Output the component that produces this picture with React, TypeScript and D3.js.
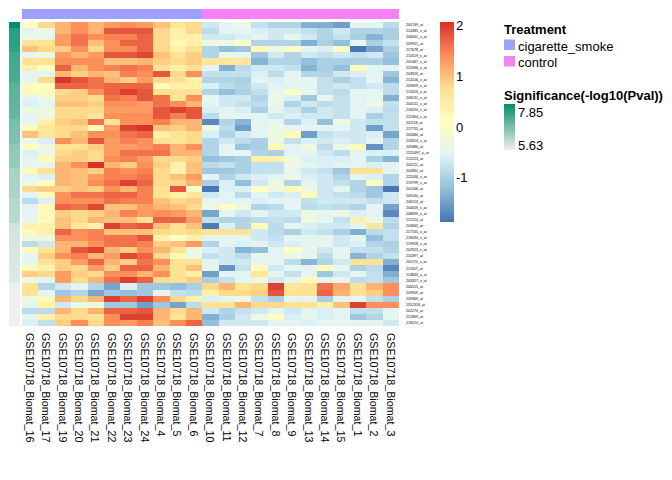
import React, { useEffect, useRef } from 'react';
import * as d3 from 'd3';

// sample order as drawn (columns)
const samples = [
  'GSE10718_Biomat_16', 'GSE10718_Biomat_17', 'GSE10718_Biomat_19', 'GSE10718_Biomat_20',
  'GSE10718_Biomat_21', 'GSE10718_Biomat_22', 'GSE10718_Biomat_23', 'GSE10718_Biomat_24',
  'GSE10718_Biomat_4', 'GSE10718_Biomat_5', 'GSE10718_Biomat_6', 'GSE10718_Biomat_10',
  'GSE10718_Biomat_11', 'GSE10718_Biomat_12', 'GSE10718_Biomat_7', 'GSE10718_Biomat_8',
  'GSE10718_Biomat_9', 'GSE10718_Biomat_13', 'GSE10718_Biomat_14', 'GSE10718_Biomat_15',
  'GSE10718_Biomat_1', 'GSE10718_Biomat_2', 'GSE10718_Biomat_3',
];

const treatment = [
  'cigarette_smoke', 'cigarette_smoke', 'cigarette_smoke', 'cigarette_smoke', 'cigarette_smoke',
  'cigarette_smoke', 'cigarette_smoke', 'cigarette_smoke', 'cigarette_smoke', 'cigarette_smoke',
  'cigarette_smoke', 'control', 'control', 'control', 'control', 'control', 'control',
  'control', 'control', 'control', 'control', 'control', 'control',
];

// probe ids (rows)
const probes = [
  '205749_at', '214385_s_at', '206561_s_at', '209921_at', '217678_at', '210519_s_at',
  '201467_s_at', '221696_s_at', '203925_at', '214106_s_at', '209699_x_at', '211653_x_at',
  '208131_s_at', '204151_x_at', '216594_x_at', '222464_s_at', '201118_at', '217755_at',
  '205680_at', '218313_s_at', '209386_at', '1555497_a_at', '212223_at', '205221_at',
  '202831_at', '222036_s_at', '219799_s_at', '201266_at', '209160_at', '206153_at',
  '204059_s_at', '208699_x_at', '212224_at', '203665_at', '217165_x_at', '218434_s_at',
  '219928_s_at', '202923_s_at', '210397_at', '201170_s_at', '211657_at', '213843_x_at',
  '203357_s_at', '206515_at', '209309_at', '209369_at', '1552318_at', '202270_at',
  '221869_at', '218224_at',
];

// -log10(p) per probe
const significance = [
  7.85, 7.48, 7.46, 7.44, 7.42, 7.28, 7.25, 7.22, 7.2, 7.18,
  7.02, 7.0, 6.98, 6.96, 6.94, 6.92, 6.75, 6.72, 6.7, 6.68,
  6.52, 6.5, 6.48, 6.46, 6.3, 6.28, 6.27, 6.26, 6.25, 6.16,
  6.15, 6.14, 6.13, 5.9, 5.88, 5.86, 5.85, 5.84, 5.83, 5.82,
  5.81, 5.8, 5.79, 5.64, 5.64, 5.63, 5.63, 5.63, 5.63, 5.63,
];

// scaled expression, one row per probe, one value per sample
const expression = [
  [0.05, 0.8, 1.1, 1.4, 1.1, 1.3, 1.4, 1.3, 1.0, 0.6, 0.8, -0.7, -0.45, -0.3, -0.8, -0.95, -0.95, -1.35, -1.35, -1.5, -0.45, -0.45, -0.85],
  [-0.5, -0.3, 1.1, 1.4, 1.1, 1.8, 1.8, 1.8, 0.8, 0.4, 0.8, -0.85, -0.5, -0.5, -0.6, -0.7, -0.7, -0.8, -0.95, -0.7, -0.95, -0.95, -1.0],
  [-0.3, -0.45, 1.3, 1.6, 1.4, 1.5, 1.5, 1.7, 0.8, 0.4, 0.4, -0.7, -0.7, -0.6, -0.5, -0.7, -0.45, -0.7, -0.95, -0.8, -1.0, -1.3, -1.0],
  [0.7, 0.7, 1.3, 1.6, 1.0, 1.4, 1.7, 1.7, 0.8, 0.2, 0.4, -0.3, -0.3, 0.05, -0.95, -0.95, -0.95, -1.35, -1.0, -1.2, -0.45, -1.0, -0.8],
  [1.0, 0.8, 0.9, 1.4, 0.8, 1.4, 1.4, 1.7, 0.8, 0.4, 0.7, -0.95, -1.2, -1.1, 0.2, -0.3, 0.05, -0.45, -0.6, 0.05, -1.85, -1.45, -1.0],
  [-0.45, -0.3, 1.3, 1.1, 1.3, 1.8, 1.8, 1.9, 1.0, 0.7, 0.9, -0.95, -0.3, -0.5, -1.1, -0.7, -0.95, -0.7, -0.8, -0.7, -0.8, -0.7, -1.1],
  [0.7, 0.7, 1.4, 1.4, 1.4, 1.0, 1.0, 1.1, 0.9, 0.8, 0.9, 0.6, 0.6, 0.6, -1.3, -0.95, -0.95, -1.2, -1.0, -1.0, -1.0, -1.0, -1.2],
  [0.4, 0.05, 1.7, 1.1, 1.4, 1.5, 1.6, 1.5, 0.7, 0.4, 0.7, -0.5, -1.35, -0.85, -0.7, -0.7, -0.8, -1.3, -1.0, -1.2, 0.2, -0.5, -0.5],
  [-0.5, -0.5, 1.1, 0.9, 1.1, 1.0, 1.5, 1.4, 1.8, 0.8, 1.4, -0.8, -0.8, -0.8, -0.6, -0.85, -0.5, -0.95, -0.95, -0.7, -0.6, -0.5, -1.1],
  [-0.45, 0.8, 2.05, 1.8, 1.6, 1.1, 0.9, 1.3, 0.8, 0.7, 0.4, -0.95, -0.95, -1.0, -0.5, -0.6, -0.45, -0.45, -0.8, -1.0, -0.8, -0.5, -1.3],
  [0.2, 0.05, 1.7, 1.7, 1.6, 1.7, 1.7, 1.7, 0.2, 0.4, 0.4, -0.6, -0.85, -0.95, -0.7, -0.5, -0.5, -0.5, -0.8, -0.7, -0.8, -0.7, -0.85],
  [0.2, 0.2, 0.8, 0.9, 1.4, 1.7, 1.95, 1.8, 0.7, 0.7, 0.7, -0.95, -1.2, -1.0, -0.8, -0.45, 0.05, -0.45, -0.8, -0.85, -0.45, -0.45, -0.85],
  [-0.45, -0.3, 0.9, 0.9, 0.8, 1.6, 1.5, 1.8, 1.6, 0.7, 1.4, -0.45, -0.7, -0.7, -0.95, -0.3, -0.6, -1.1, -0.45, -0.8, -0.5, -0.45, -1.35],
  [-0.6, -0.45, 1.0, 1.0, 0.9, 1.4, 1.4, 1.3, 1.6, 1.4, 1.1, -0.45, -0.7, -0.8, -0.85, -0.45, -0.95, -0.7, -0.85, -0.8, -0.5, -0.3, -0.8],
  [-0.3, -0.3, 0.8, 0.8, 0.8, 1.3, 1.3, 1.3, 1.8, 1.95, 1.8, -0.6, -0.5, -0.6, -1.0, -0.5, -0.7, -1.0, -0.7, -0.8, -0.5, -0.6, -0.85],
  [-0.5, -0.3, 0.8, 0.8, 0.6, 1.4, 1.4, 1.4, 1.8, 1.5, 1.8, -0.85, -0.5, -0.45, -0.5, -0.7, -0.6, -0.7, -0.7, -0.8, -0.5, -1.0, -0.8],
  [-0.45, 0.4, 0.9, 1.0, 1.6, 0.7, 1.4, 1.4, 1.5, 1.1, 1.1, -1.7, -0.95, -1.3, -0.5, -0.45, -0.95, -0.6, -1.2, -0.3, -0.7, -0.8, -0.8],
  [0.2, 0.6, 0.8, 0.8, 0.2, 1.3, 1.95, 2.05, 1.0, 0.9, 1.1, -0.3, -0.85, -1.5, -0.5, -0.3, -0.45, -0.5, -0.5, -0.5, -0.7, -1.5, -0.8],
  [1.0, 0.6, 0.8, 1.0, 1.4, 1.4, 1.6, 1.7, 0.4, 0.7, 0.8, -0.6, -0.95, -0.7, -0.5, -0.3, 0.2, -1.5, -0.8, -0.7, -0.7, -0.6, -1.45],
  [-0.3, -0.6, 1.4, 1.1, 1.8, 1.3, 1.5, 1.4, 0.7, 0.6, 0.8, -0.95, -0.7, -0.85, -1.0, -0.3, -0.8, -0.6, -0.7, -0.6, -0.7, -0.45, -0.95],
  [0.05, -0.3, 0.7, 0.7, 0.9, 1.3, 1.3, 1.4, 1.5, 1.1, 1.4, -0.95, -0.5, -1.1, -1.0, 0.2, -0.5, -0.3, -0.85, -0.3, 0.2, -1.6, -0.95],
  [-0.6, -0.3, 0.8, 0.9, 0.8, 1.3, 1.6, 1.6, 1.6, 1.1, 1.1, -0.95, -0.5, -0.45, -0.95, -1.0, -0.5, -0.5, -0.7, -0.85, -0.5, -0.6, -0.6],
  [-0.45, 0.2, 0.9, 0.9, 0.8, 1.4, 1.5, 1.3, 0.8, 0.8, 0.9, -1.2, -1.1, -1.0, 0.4, 0.4, -0.3, -0.6, -0.6, -0.6, -0.5, -1.0, -1.3],
  [-0.45, -0.45, 1.1, 1.4, 2.05, 1.1, 0.9, 1.4, 0.9, 0.4, 1.0, -0.85, -0.8, -1.0, -0.8, -0.8, -0.3, -0.5, -0.6, -0.5, -0.5, -0.6, -0.5],
  [0.2, 0.7, 1.1, 1.0, 0.9, 1.5, 1.4, 1.5, 0.8, 0.4, 1.0, -1.1, -1.1, -1.0, -0.8, -0.8, -0.45, -0.7, -0.8, -1.1, 0.7, 0.7, -0.5],
  [-0.5, -0.6, 1.1, 1.0, 1.3, 1.5, 1.5, 1.6, 0.8, 1.0, 1.3, -0.5, -0.95, -0.7, -0.6, -0.5, -0.3, -0.6, -0.7, -0.95, -0.5, -0.6, -0.95],
  [-0.3, 0.05, 1.1, 1.0, 1.4, 1.6, 1.95, 1.7, 0.8, 0.8, 1.1, -1.0, -0.6, -1.2, -0.7, -0.3, -0.95, -0.5, -0.7, -0.8, -0.95, 0.05, -0.95],
  [0.8, 0.9, 0.9, 1.0, 0.9, 1.4, 1.1, 1.5, 0.7, 1.8, 0.05, -1.85, -0.6, -0.6, 0.05, -0.3, 0.2, -0.3, -0.7, -0.5, -0.95, -1.1, -1.85],
  [-0.45, 0.2, 1.4, 1.6, 1.6, 1.7, 1.7, 1.5, 0.7, 0.4, 0.6, -0.7, -0.5, -0.85, -0.5, -0.7, -0.6, 0.2, -0.7, -0.8, -0.85, -1.1, -0.7],
  [-0.85, -0.6, 1.4, 1.4, 1.4, 1.6, 1.5, 1.5, 1.0, 0.8, 0.9, -0.45, -0.5, -0.5, -0.6, -0.5, -0.5, -0.8, -0.7, -0.7, -0.7, -0.8, -0.7],
  [-0.5, 0.2, 1.7, 1.6, 1.9, 1.0, 1.0, 1.3, 1.1, 1.0, 0.8, -0.3, 0.05, -0.3, -0.95, -0.85, -0.5, -0.85, -0.8, -0.85, -0.95, -0.45, -1.45],
  [-0.5, 0.2, 0.9, 0.8, 0.9, 1.1, 1.5, 1.3, 1.4, 1.3, 1.1, -1.45, -0.5, -0.7, -0.5, -0.7, -0.7, -0.3, -0.45, -0.3, -0.6, -0.5, -1.7],
  [-0.45, 0.2, 1.0, 0.8, 1.1, 1.0, 1.0, 0.7, 1.7, 1.7, 1.3, -0.8, -0.95, -0.95, -0.85, -0.8, -0.85, -0.3, -0.45, -0.8, 0.4, -0.3, -0.85],
  [0.4, 0.4, 1.0, 0.6, 0.4, 1.95, 1.7, 1.8, 1.0, 0.7, 1.0, -1.8, -0.6, -0.95, 0.2, -0.85, -0.45, -0.6, -0.7, -0.7, -0.45, 0.6, -0.95],
  [0.2, 0.4, 1.7, 1.4, 1.5, 1.0, 1.0, 1.0, 0.8, 0.7, 0.8, 0.7, 0.7, 0.7, -0.7, -0.85, -1.0, -0.7, -0.8, -1.0, -1.35, -0.85, -0.8],
  [-0.3, -0.3, 1.4, 1.4, 1.5, 1.6, 1.6, 1.8, 0.4, 0.05, 0.4, -0.5, -0.5, -0.5, -0.7, -0.8, -0.5, -0.45, -0.5, -0.7, -0.45, -1.2, -0.8],
  [-0.85, -0.7, 1.1, 1.1, 1.4, 1.6, 1.6, 1.5, 0.9, 1.0, 1.3, -0.95, -0.5, -0.6, -0.5, -0.7, -0.6, -0.45, -0.45, -0.7, -0.6, -0.95, -1.0],
  [0.2, 0.7, 1.1, 1.8, 1.95, 1.1, 0.9, 1.4, 1.1, 0.7, -0.3, -0.6, -0.7, -1.3, -1.2, -0.5, 0.05, -0.45, -0.7, -0.5, -0.8, -0.8, -0.95],
  [-0.45, 0.9, 1.4, 1.5, 1.1, 1.3, 1.9, 1.7, 0.8, 0.2, -0.3, -0.8, -0.7, -0.85, -0.45, -0.5, -0.3, -0.45, -0.85, -0.45, -1.3, -0.95, -0.8],
  [-0.45, 0.7, 0.9, 1.3, 1.7, 1.1, 0.9, 1.6, 1.4, 0.7, 0.7, -0.5, -0.7, -0.7, -0.45, -0.5, -0.85, -1.3, -0.95, -0.7, 0.7, 0.7, -1.35],
  [0.2, 0.4, 0.9, 0.8, 1.3, 0.9, 1.7, 1.7, 1.1, 0.7, 1.0, -0.45, -1.6, -0.8, 0.2, -0.7, -0.45, -0.5, 0.2, -0.45, -1.0, -0.85, -1.7],
  [0.9, 0.8, 1.3, 0.9, 0.8, 1.4, 1.4, 1.1, 1.4, 0.7, 0.4, -1.5, -0.5, -0.5, 0.6, -0.5, -0.8, -0.5, -1.1, -0.7, -0.45, -0.8, -1.35],
  [-0.3, -0.5, 1.3, 0.8, 1.1, 1.6, 1.95, 1.7, 0.8, 0.7, 0.9, -1.0, -0.8, -0.45, -0.3, -0.7, -0.45, 0.2, -0.5, -0.5, -0.85, -0.8, -1.1],
  [0.7, -0.95, -0.7, -0.5, -0.95, -1.45, -0.6, -1.1, -1.1, -1.2, -1.0, 0.8, 1.1, 0.7, 0.8, 1.95, 0.6, 0.7, 1.6, 1.2, 0.7, 1.1, 1.4],
  [0.7, -0.45, -1.1, -0.95, -1.45, -1.1, -1.2, -1.1, -0.45, -0.8, -0.85, 0.4, 0.8, 0.8, 0.9, 1.8, 0.7, 0.7, 1.7, 1.1, 0.7, 0.9, 1.4],
  [-0.3, 0.2, 1.1, 0.8, 1.1, 1.95, 1.7, 1.95, 1.4, 0.8, 0.4, -0.6, -0.45, -0.3, -0.8, -1.0, -0.5, -0.45, -1.0, -0.5, -0.45, -0.8, -1.0],
  [-0.45, 0.4, -0.7, -0.3, -0.3, -1.1, -1.1, -1.5, -1.1, -1.45, -0.85, 0.7, 0.7, 1.1, 0.8, 0.8, 0.7, 0.7, 0.4, 1.0, 1.95, 1.4, 1.4],
  [-0.85, -0.85, 1.1, 0.8, 1.1, 1.7, 1.7, 1.8, 1.1, 0.8, 1.1, -0.7, -0.95, -0.8, -0.7, -0.5, -0.7, -0.5, -0.6, -0.5, -0.8, -0.8, -0.5],
  [-0.45, 0.4, 0.8, 0.8, 0.7, 1.4, 1.95, 1.95, 1.1, 0.7, 1.1, -1.35, -1.0, -0.7, -0.3, 0.05, -0.6, -0.45, -0.6, -0.5, -1.1, -0.95, -0.45],
  [-0.6, -0.8, 0.9, 1.4, 0.8, 1.4, 1.3, 1.5, 1.0, 1.4, 1.7, -1.2, -0.7, -0.7, -0.7, -0.5, -0.5, -0.6, -0.45, -0.45, -0.5, -0.5, -0.7],
];

const treatmentLevels = ['cigarette_smoke', 'control'];
const treatmentColors = ['#9f9ffc', '#f680f5'];
const heatColors = ['#4575B4', '#91BFDB', '#E0F3F8', '#FFFFBF', '#FEE090', '#FC8D59', '#D73027'];
const valueRange = [-1.87, 2.07];
const valueTicks = [-1, 0, 1, 2];
const sigRange = [5.63, 7.85];
const sigColors = ['#efefef', '#008f67'];

const font = '"Liberation Sans", Arial, Helvetica, sans-serif';

const App = () => {
  const svgRef = useRef<SVGSVGElement | null>(null);

  useEffect(() => {
    if (!svgRef.current) return;
    const svg = d3.select(svgRef.current);
    svg.selectAll('*').remove();

    const heat = { left: 22, top: 22, right: 399, bottom: 326 };

    const x = d3.scaleBand().domain(samples).range([heat.left, heat.right]);
    const y = d3.scaleBand().domain(probes).range([heat.top, heat.bottom]);

    const stops = heatColors.map((_, i) => valueRange[0] + (i * (valueRange[1] - valueRange[0])) / (heatColors.length - 1));
    const color = d3.scaleLinear<string>().domain(stops).range(heatColors).interpolate(d3.interpolateRgb).clamp(true);
    const sigColor = d3.scaleLinear<string>().domain(sigRange).range(sigColors).interpolate(d3.interpolateRgb);
    const trtColor = d3.scaleOrdinal<string>().domain(treatmentLevels).range(treatmentColors);

    // heatmap cells
    const cells = svg.append('g').attr('shape-rendering', 'crispEdges');
    expression.forEach((row, i) => {
      cells.selectAll(null)
        .data(row)
        .enter()
        .append('rect')
        .attr('x', (_, j) => x(samples[j])!)
        .attr('y', y(probes[i])!)
        .attr('width', x.bandwidth())
        .attr('height', y.bandwidth())
        .attr('fill', d => color(d));
    });

    // column annotation
    svg.append('g').attr('shape-rendering', 'crispEdges')
      .selectAll('rect')
      .data(samples)
      .enter()
      .append('rect')
      .attr('x', d => x(d)!)
      .attr('y', 9)
      .attr('width', x.bandwidth())
      .attr('height', 10)
      .attr('fill', (_, j) => trtColor(treatment[j]));

    // row annotation
    svg.append('g').attr('shape-rendering', 'crispEdges')
      .selectAll('rect')
      .data(probes)
      .enter()
      .append('rect')
      .attr('x', 9)
      .attr('y', d => y(d)!)
      .attr('width', 11)
      .attr('height', y.bandwidth())
      .attr('fill', (_, i) => sigColor(significance[i]));

    // row labels
    svg.append('g')
      .selectAll('text')
      .data(probes)
      .enter()
      .append('text')
      .attr('x', heat.right + 7)
      .attr('y', d => y(d)! + y.bandwidth() / 2)
      .attr('dy', '0.35em')
      .attr('font-family', font)
      .attr('font-size', 3.6)
      .attr('fill', '#000')
      .text(d => d);

    // column labels
    svg.append('g')
      .selectAll('text')
      .data(samples)
      .enter()
      .append('text')
      .attr('transform', d => `translate(${x(d)! + x.bandwidth() / 2},333) rotate(90)`)
      .attr('dy', '0.4em')
      .attr('font-family', font)
      .attr('font-size', 10.7)
      .attr('fill', '#000')
      .text(d => d);

    // color key
    const defs = svg.append('defs');
    const grad = defs.append('linearGradient')
      .attr('id', 'heatKey')
      .attr('x1', 0).attr('y1', 1).attr('x2', 0).attr('y2', 0);
    heatColors.forEach((c, i) => {
      grad.append('stop').attr('offset', i / (heatColors.length - 1)).attr('stop-color', c);
    });
    const keyY = d3.scaleLinear().domain(valueRange).range([222, 22]);
    svg.append('rect')
      .attr('x', 440)
      .attr('y', 22)
      .attr('width', 14)
      .attr('height', 200)
      .attr('fill', 'url(#heatKey)');
    svg.append('g')
      .selectAll('text')
      .data(valueTicks)
      .enter()
      .append('text')
      .attr('x', 456)
      .attr('y', d => keyY(d))
      .attr('dy', '0.35em')
      .attr('font-family', font)
      .attr('font-size', 13)
      .attr('fill', '#000')
      .text(d => d);

    // Treatment legend
    const leg = svg.append('g').attr('font-family', font).attr('fill', '#000');
    leg.append('text')
      .attr('x', 504).attr('y', 34)
      .attr('font-size', 13).attr('font-weight', 'bold')
      .text('Treatment');
    treatmentLevels.forEach((lvl, i) => {
      leg.append('rect')
        .attr('x', 504).attr('y', 39.5 + i * 16.5)
        .attr('width', 11).attr('height', 10.5)
        .attr('fill', trtColor(lvl));
      leg.append('text')
        .attr('x', 518).attr('y', 50.5 + i * 16.2)
        .attr('font-size', 13)
        .text(lvl);
    });

    // Significance legend
    leg.append('text')
      .attr('x', 504).attr('y', 100)
      .attr('font-size', 13).attr('font-weight', 'bold')
      .text('Significance(-log10(Pval))');
    const sgrad = defs.append('linearGradient')
      .attr('id', 'sigKey')
      .attr('x1', 0).attr('y1', 1).attr('x2', 0).attr('y2', 0);
    sgrad.append('stop').attr('offset', 0).attr('stop-color', sigColors[0]);
    sgrad.append('stop').attr('offset', 1).attr('stop-color', sigColors[1]);
    leg.append('rect')
      .attr('x', 504).attr('y', 104)
      .attr('width', 11).attr('height', 46)
      .attr('fill', 'url(#sigKey)');
    leg.append('text')
      .attr('x', 518).attr('y', 116.5)
      .attr('font-size', 13)
      .text(sigRange[1].toFixed(2));
    leg.append('text')
      .attr('x', 518).attr('y', 149.5)
      .attr('font-size', 13)
      .text(sigRange[0].toFixed(2));
  }, []);

  return (
    <svg
      ref={svgRef}
      width={672}
      height={480}
      style={{ position: 'absolute', left: 0, top: 0, background: '#fff' }}
    />
  );
};

export default App;
